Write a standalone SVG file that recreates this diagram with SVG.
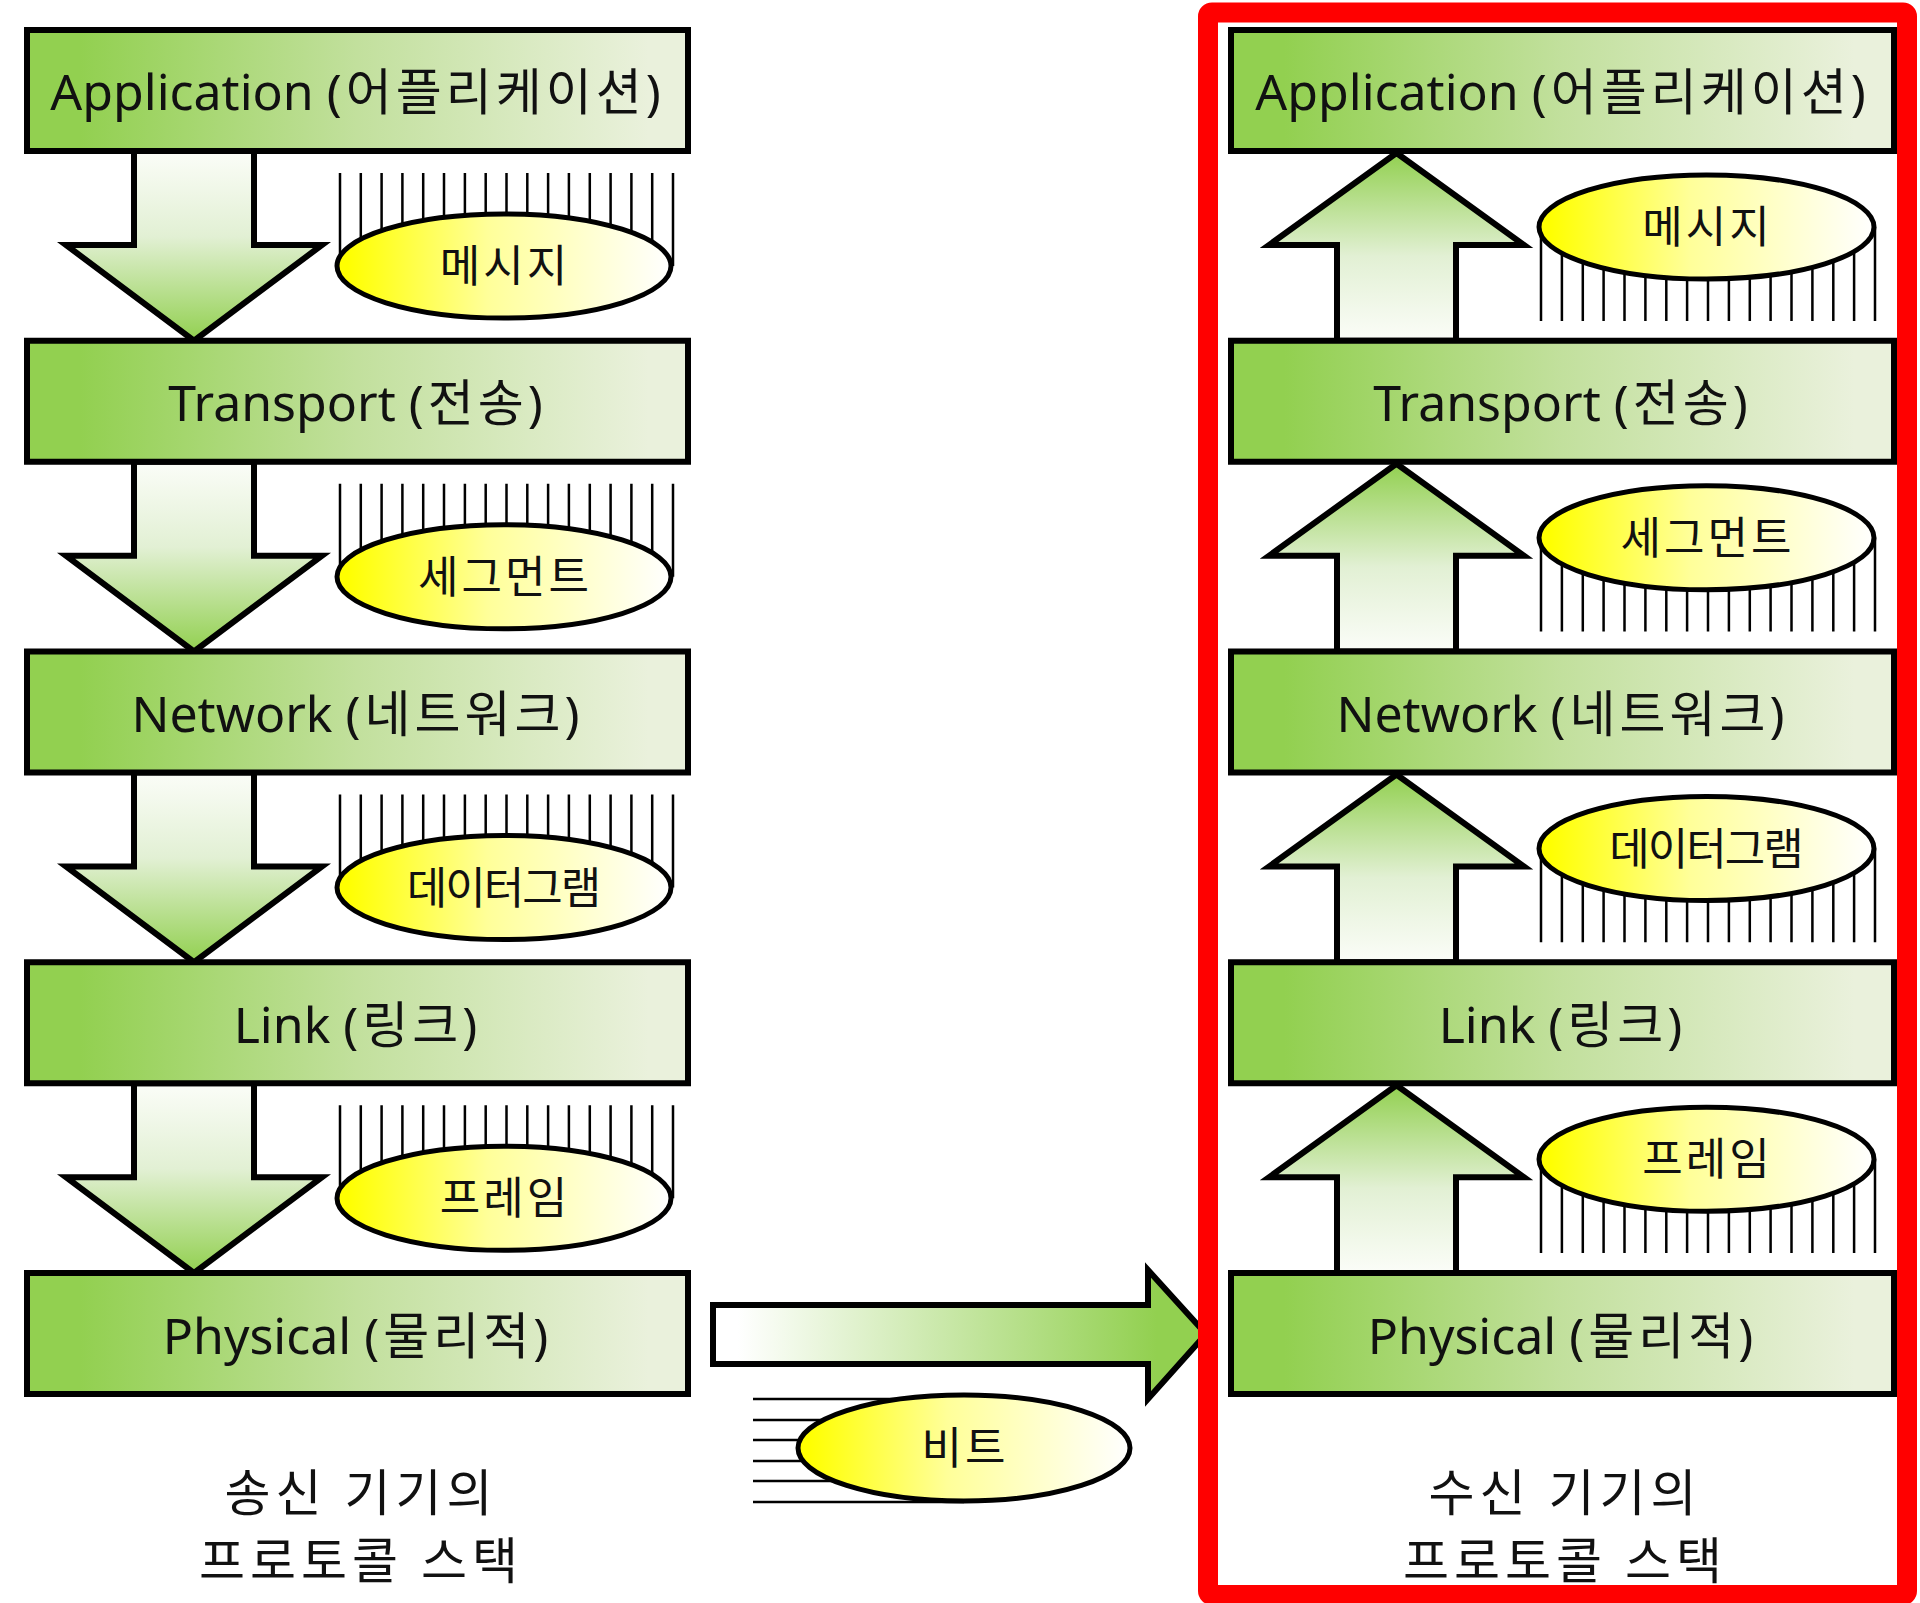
<svg xmlns="http://www.w3.org/2000/svg" width="1920" height="1603" viewBox="0 0 1920 1603">
<defs>
<linearGradient id="gBox" x1="0" y1="0" x2="1" y2="0">
<stop offset="0.08" stop-color="#92d050"/>
<stop offset="0.5" stop-color="#c2e09d"/>
<stop offset="0.94" stop-color="#eaf1dc"/>
</linearGradient>
<linearGradient id="gDown" x1="0" y1="0" x2="0" y2="1">
<stop offset="0" stop-color="#fbfdf8"/>
<stop offset="0.45" stop-color="#e2f0d4"/>
<stop offset="1" stop-color="#92d050"/>
</linearGradient>
<linearGradient id="gUp" x1="0" y1="1" x2="0" y2="0">
<stop offset="0" stop-color="#fbfdf8"/>
<stop offset="0.45" stop-color="#e2f0d4"/>
<stop offset="1" stop-color="#92d050"/>
</linearGradient>
<linearGradient id="gRight" x1="0" y1="0" x2="1" y2="0">
<stop offset="0.05" stop-color="#ffffff"/>
<stop offset="0.9" stop-color="#92d050"/>
</linearGradient>
<linearGradient id="gEll" x1="0" y1="0" x2="1" y2="0">
<stop offset="0.03" stop-color="#ffff00"/>
<stop offset="0.45" stop-color="#ffff99"/>
<stop offset="1" stop-color="#ffffff"/>
</linearGradient>
<style>
.box{fill:url(#gBox);stroke:#000;stroke-width:6}
.arrD{fill:url(#gDown);stroke:#000;stroke-width:6;stroke-linejoin:miter}
.arrU{fill:url(#gUp);stroke:#000;stroke-width:6;stroke-linejoin:miter}
.arrR{fill:url(#gRight);stroke:#000;stroke-width:6;stroke-linejoin:miter}
.ell{fill:url(#gEll);stroke:#000;stroke-width:5}
.hatch{fill:none;stroke:#000;stroke-width:2.5}
text{font-family:'Noto Sans','Noto Sans CJK KR',sans-serif;fill:#111;text-anchor:middle}
.lbl{font-size:50px}
.k{letter-spacing:4px}
.pdu{font-size:44px;letter-spacing:3px}
.pdu.n{letter-spacing:-2px}
.cap{font-size:50px;letter-spacing:5px}
</style>
</defs>
<rect width="1920" height="1603" fill="#ffffff"/>

<g id="connectors">
<polygon class="arrD" points="134,151 254,151 254,245 322,245 194,340.75 66,245 134,245"/>
<polygon class="arrD" points="134,461.75 254,461.75 254,555.75 322,555.75 194,651.5 66,555.75 134,555.75"/>
<polygon class="arrD" points="134,772.5 254,772.5 254,866.5 322,866.5 194,962.25 66,866.5 134,866.5"/>
<polygon class="arrD" points="134,1083.25 254,1083.25 254,1177.25 322,1177.25 194,1273 66,1177.25 134,1177.25"/>
<polygon class="arrU" points="1396.5,153 1524,245 1456,245 1456,340.75 1337,340.75 1337,245 1269,245"/>
<polygon class="arrU" points="1396.5,463.75 1524,555.75 1456,555.75 1456,651.5 1337,651.5 1337,555.75 1269,555.75"/>
<polygon class="arrU" points="1396.5,774.5 1524,866.5 1456,866.5 1456,962.25 1337,962.25 1337,866.5 1269,866.5"/>
<polygon class="arrU" points="1396.5,1085.25 1524,1177.25 1456,1177.25 1456,1273 1337,1273 1337,1177.25 1269,1177.25"/>
<polygon class="arrR" points="713,1305 1148,1305 1148,1270 1206,1334 1148,1399 1148,1364 713,1364"/>
</g>

<g id="sender-stack">
<g id="s-application"><rect class="box" x="27" y="30" width="661" height="121"/><text class="lbl" x="357.5" y="110">Application <tspan class="k">(어플리케이션)</tspan></text></g>
<g id="s-transport"><rect class="box" x="27" y="340.75" width="661" height="121"/><text class="lbl" x="357.5" y="421">Transport <tspan class="k">(전송)</tspan></text></g>
<g id="s-network"><rect class="box" x="27" y="651.5" width="661" height="121"/><text class="lbl" x="357.5" y="732">Network <tspan class="k">(네트워크)</tspan></text></g>
<g id="s-link"><rect class="box" x="27" y="962.25" width="661" height="121"/><text class="lbl" x="357.5" y="1043">Link <tspan class="k">(링크)</tspan></text></g>
<g id="s-physical"><rect class="box" x="27" y="1273" width="661" height="121"/><text class="lbl" x="357.5" y="1354">Physical <tspan class="k">(물리적)</tspan></text></g>
</g>

<g id="sender-pdus">
<g id="s-message">
<path class="hatch" d="M340,173V266M360.8,173V266M381.6,173V266M402.4,173V266M423.2,173V266M444,173V266M464.9,173V266M485.7,173V266M506.5,173V266M527.3,173V266M548.1,173V266M568.9,173V266M589.8,173V266M610.6,173V266M631.4,173V266M652.2,173V266M673,173V266"/>
<ellipse class="ell" cx="504" cy="266" rx="167" ry="52"/><text class="pdu" x="505" y="282">메시지</text></g>
<g id="s-segment">
<path class="hatch" d="M340,483.75V576.75M360.8,483.75V576.75M381.6,483.75V576.75M402.4,483.75V576.75M423.2,483.75V576.75M444,483.75V576.75M464.9,483.75V576.75M485.7,483.75V576.75M506.5,483.75V576.75M527.3,483.75V576.75M548.1,483.75V576.75M568.9,483.75V576.75M589.8,483.75V576.75M610.6,483.75V576.75M631.4,483.75V576.75M652.2,483.75V576.75M673,483.75V576.75"/>
<ellipse class="ell" cx="504" cy="576.75" rx="167" ry="52"/><text class="pdu" x="505" y="592.75">세그먼트</text></g>
<g id="s-datagram">
<path class="hatch" d="M340,794.5V887.5M360.8,794.5V887.5M381.6,794.5V887.5M402.4,794.5V887.5M423.2,794.5V887.5M444,794.5V887.5M464.9,794.5V887.5M485.7,794.5V887.5M506.5,794.5V887.5M527.3,794.5V887.5M548.1,794.5V887.5M568.9,794.5V887.5M589.8,794.5V887.5M610.6,794.5V887.5M631.4,794.5V887.5M652.2,794.5V887.5M673,794.5V887.5"/>
<ellipse class="ell" cx="504" cy="887.5" rx="167" ry="52"/><text class="pdu n" x="503" y="903.5">데이터그램</text></g>
<g id="s-frame">
<path class="hatch" d="M340,1105.25V1198.25M360.8,1105.25V1198.25M381.6,1105.25V1198.25M402.4,1105.25V1198.25M423.2,1105.25V1198.25M444,1105.25V1198.25M464.9,1105.25V1198.25M485.7,1105.25V1198.25M506.5,1105.25V1198.25M527.3,1105.25V1198.25M548.1,1105.25V1198.25M568.9,1105.25V1198.25M589.8,1105.25V1198.25M610.6,1105.25V1198.25M631.4,1105.25V1198.25M652.2,1105.25V1198.25M673,1105.25V1198.25"/>
<ellipse class="ell" cx="504" cy="1198.25" rx="167" ry="52"/><text class="pdu" x="505" y="1214.25">프레임</text></g>
</g>

<g id="bits">
<path class="hatch" d="M753,1399H964M753,1420H964M753,1440H964M753,1461H964M753,1481H964M753,1502H964"/>
<ellipse class="ell" cx="964" cy="1448" rx="166" ry="53"/><text class="pdu" x="965" y="1464">비트</text>
</g>

<g id="sender-caption">
<text class="cap" x="361" y="1511">송신 기기의</text>
<text class="cap" x="361" y="1579">프로토콜 스택</text>
</g>

<g id="receiver-stack">
<g id="r-application"><rect class="box" x="1231" y="30" width="663" height="121"/><text class="lbl" x="1562.5" y="110">Application <tspan class="k">(어플리케이션)</tspan></text></g>
<g id="r-transport"><rect class="box" x="1231" y="340.75" width="663" height="121"/><text class="lbl" x="1562.5" y="421">Transport <tspan class="k">(전송)</tspan></text></g>
<g id="r-network"><rect class="box" x="1231" y="651.5" width="663" height="121"/><text class="lbl" x="1562.5" y="732">Network <tspan class="k">(네트워크)</tspan></text></g>
<g id="r-link"><rect class="box" x="1231" y="962.25" width="663" height="121"/><text class="lbl" x="1562.5" y="1043">Link <tspan class="k">(링크)</tspan></text></g>
<g id="r-physical"><rect class="box" x="1231" y="1273" width="663" height="121"/><text class="lbl" x="1562.5" y="1354">Physical <tspan class="k">(물리적)</tspan></text></g>
</g>

<g id="receiver-pdus">
<g id="r-message">
<path class="hatch" d="M1541,227V321M1561.9,227V321M1582.8,227V321M1603.6,227V321M1624.5,227V321M1645.4,227V321M1666.3,227V321M1687.1,227V321M1708,227V321M1728.9,227V321M1749.8,227V321M1770.6,227V321M1791.5,227V321M1812.4,227V321M1833.3,227V321M1854.1,227V321M1875,227V321"/>
<ellipse class="ell" cx="1706.5" cy="227" rx="167.5" ry="52"/><text class="pdu" x="1707.5" y="243">메시지</text></g>
<g id="r-segment">
<path class="hatch" d="M1541,537.75V631.5M1561.9,537.75V631.5M1582.8,537.75V631.5M1603.6,537.75V631.5M1624.5,537.75V631.5M1645.4,537.75V631.5M1666.3,537.75V631.5M1687.1,537.75V631.5M1708,537.75V631.5M1728.9,537.75V631.5M1749.8,537.75V631.5M1770.6,537.75V631.5M1791.5,537.75V631.5M1812.4,537.75V631.5M1833.3,537.75V631.5M1854.1,537.75V631.5M1875,537.75V631.5"/>
<ellipse class="ell" cx="1706.5" cy="537.75" rx="167.5" ry="52"/><text class="pdu" x="1707.5" y="553.75">세그먼트</text></g>
<g id="r-datagram">
<path class="hatch" d="M1541,848.5V942.25M1561.9,848.5V942.25M1582.8,848.5V942.25M1603.6,848.5V942.25M1624.5,848.5V942.25M1645.4,848.5V942.25M1666.3,848.5V942.25M1687.1,848.5V942.25M1708,848.5V942.25M1728.9,848.5V942.25M1749.8,848.5V942.25M1770.6,848.5V942.25M1791.5,848.5V942.25M1812.4,848.5V942.25M1833.3,848.5V942.25M1854.1,848.5V942.25M1875,848.5V942.25"/>
<ellipse class="ell" cx="1706.5" cy="848.5" rx="167.5" ry="52"/><text class="pdu n" x="1705.5" y="864.5">데이터그램</text></g>
<g id="r-frame">
<path class="hatch" d="M1541,1159.25V1253M1561.9,1159.25V1253M1582.8,1159.25V1253M1603.6,1159.25V1253M1624.5,1159.25V1253M1645.4,1159.25V1253M1666.3,1159.25V1253M1687.1,1159.25V1253M1708,1159.25V1253M1728.9,1159.25V1253M1749.8,1159.25V1253M1770.6,1159.25V1253M1791.5,1159.25V1253M1812.4,1159.25V1253M1833.3,1159.25V1253M1854.1,1159.25V1253M1875,1159.25V1253"/>
<ellipse class="ell" cx="1706.5" cy="1159.25" rx="167.5" ry="52"/><text class="pdu" x="1707.5" y="1175.25">프레임</text></g>
</g>

<g id="receiver-caption">
<text class="cap" x="1565" y="1511">수신 기기의</text>
<text class="cap" x="1565" y="1579">프로토콜 스택</text>
</g>

<g id="receiver-highlight">
<rect x="1208" y="12.5" width="699" height="1582.5" rx="4" fill="none" stroke="#ff0000" stroke-width="20"/>
</g>
</svg>
